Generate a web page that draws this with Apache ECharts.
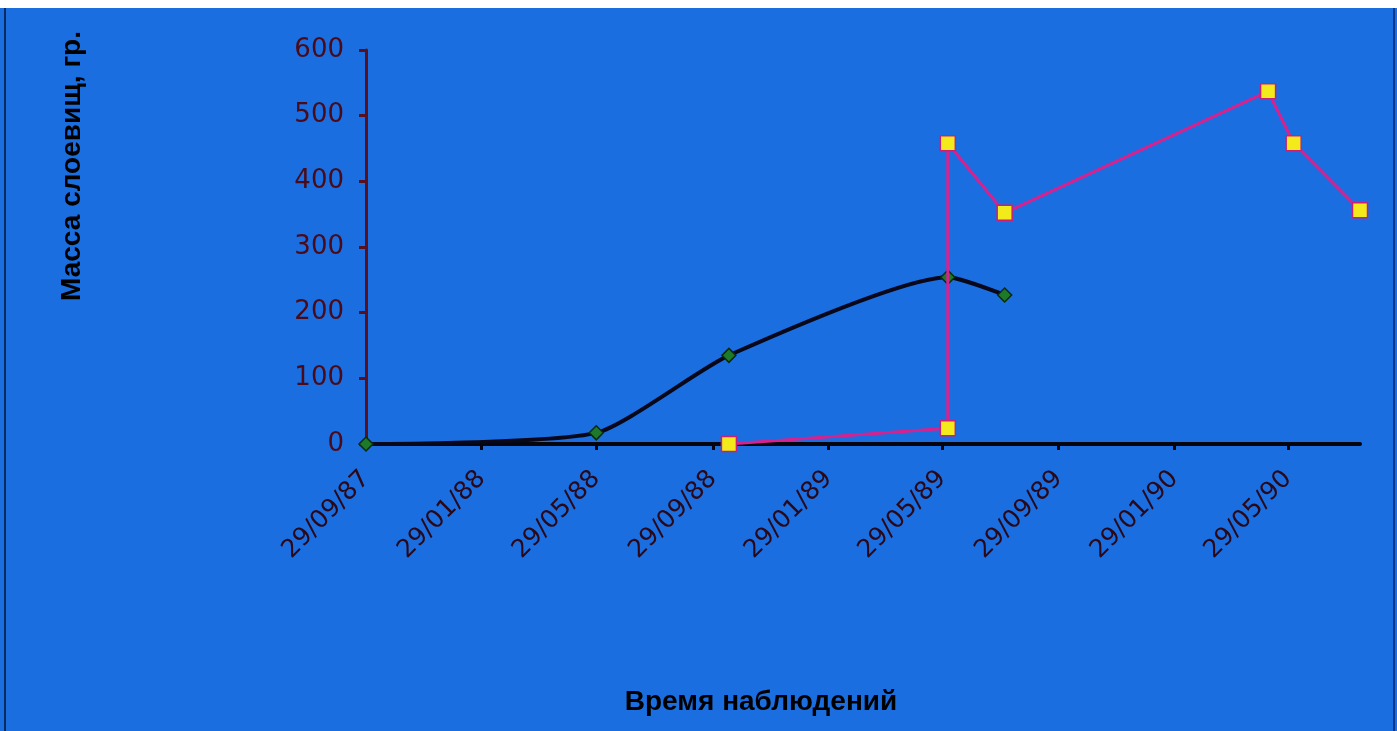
<!DOCTYPE html>
<html>
<head>
<meta charset="utf-8">
<script src="https://cdn.jsdelivr.net/npm/echarts@6/dist/echarts.min.js"></script>
<style>
html,body{margin:0;padding:0;background:#ffffff;}
#chart{width:1397px;height:731px;}
</style>
</head>
<body>
<div id="chart"></div>
<script>
// Series 1 (black smoothed line, green diamonds)
var dates1 = ['1987-09-29', '1988-05-29', '1988-10-16', '1989-06-04', '1989-08-03'];
var mass1 = [0, 17, 135, 254, 227];
// Series 2 (magenta line, yellow squares)
var dates2 = ['1988-10-16', '1989-06-04', '1989-06-04', '1989-08-03', '1990-05-08', '1990-06-04', '1990-08-13'];
var mass2 = [0, 24, 458, 352, 537, 458, 356];
// X tick labels (dates)
var tickDates = ['1987-09-29', '1988-01-29', '1988-05-29', '1988-09-29', '1989-01-29', '1989-05-29', '1989-09-29', '1990-01-29', '1990-05-29'];
var xMinDate = '1987-09-29';
var xMaxDate = '1990-08-13';
var yTicks = [0, 100, 200, 300, 400, 500, 600];
var yTitle = 'Масса слоевищ, гр.';
var xTitle = 'Время наблюдений';

function ts(s) { var p = s.split('-'); return new Date(+p[0], +p[1] - 1, +p[2]).getTime(); }
function pad(n) { return (n < 10 ? '0' : '') + n; }
function fmt(v) { var d = new Date(v); return pad(d.getDate()) + '/' + pad(d.getMonth() + 1) + '/' + pad(d.getFullYear() % 100); }

var tickTs = tickDates.map(ts);
var s1 = dates1.map(function (d, i) { return [ts(d), mass1[i]]; });
var s2 = dates2.map(function (d, i) { return [ts(d), mass2[i]]; });

var chart = echarts.init(document.getElementById('chart'));
chart.setOption({
  backgroundColor: '#1a6ee0',
  animation: false,
  grid: { left: 366, right: 37, top: 50, bottom: 287, containLabel: false },
  xAxis: {
    type: 'value',
    min: ts(xMinDate),
    max: ts(xMaxDate),
    splitLine: { show: false },
    axisLine: { show: true, onZero: false, lineStyle: { color: '#050510', width: 4 } },
    axisTick: { show: true, customValues: tickTs, length: 6, lineStyle: { color: '#050510', width: 3 } },
    axisLabel: {
      customValues: tickTs,
      rotate: 45,
      margin: 31,
      color: '#2a0818',
      fontFamily: 'DejaVu Sans',
      fontSize: 25,
      formatter: function (v) { return fmt(v); }
    }
  },
  yAxis: {
    type: 'value',
    min: yTicks[0],
    max: yTicks[yTicks.length - 1],
    interval: 100,
    splitLine: { show: false },
    axisLine: { show: true, lineStyle: { color: '#5a0f1e', width: 3 } },
    axisTick: { show: true, length: 7, lineStyle: { color: '#5a0f1e', width: 3 } },
    axisLabel: { color: '#4a0a18', fontFamily: 'DejaVu Sans', fontSize: 26, margin: 22 }
  },
  series: [
    {
      type: 'line',
      data: s1,
      smooth: 0.2,
      z: 3,
      lineStyle: { color: '#08081a', width: 4 },
      symbol: 'diamond',
      symbolSize: 14,
      itemStyle: { color: '#1d7a2a', borderColor: '#0a2a10', borderWidth: 1.5 }
    },
    {
      type: 'line',
      data: s2,
      z: 4,
      lineStyle: { color: '#d6228f', width: 3 },
      symbol: 'rect',
      symbolSize: 15,
      itemStyle: { color: '#f2ea1a', borderColor: '#c8207a', borderWidth: 1.5 }
    }
  ],
  graphic: [
    { type: 'rect', left: 0, top: 0, shape: { width: 1397, height: 8 }, style: { fill: '#ffffff' }, z: 100 },
    { type: 'rect', left: 4, top: 8, shape: { width: 2, height: 723 }, style: { fill: '#0a2a60' }, z: 100 },
    { type: 'rect', left: 1393, top: 8, shape: { width: 2, height: 723 }, style: { fill: '#0a3a90' }, z: 100 },
    {
      type: 'text', x: 72, y: 166, rotation: Math.PI / 2,
      style: { text: yTitle, fill: '#000', font: 'bold 28px "Liberation Sans"', align: 'center', verticalAlign: 'middle' }
    },
    {
      type: 'text', x: 761, y: 702,
      style: { text: xTitle, fill: '#000', font: 'bold 28px "Liberation Sans"', align: 'center', verticalAlign: 'middle' }
    }
  ]
});
</script>
</body>
</html>
